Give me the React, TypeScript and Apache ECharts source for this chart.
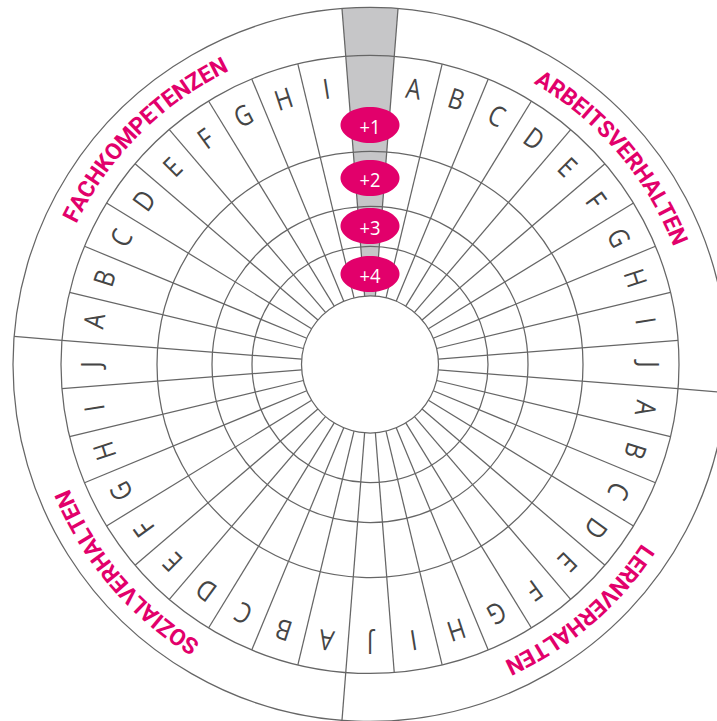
import React, { useEffect, useRef } from "react";
import * as echarts from "echarts";

// ---------------- data ----------------
const CATEGORIES = ["ARBEITSVERHALTEN", "LERNVERHALTEN", "SOZIALVERHALTEN", "FACHKOMPETENZEN"];
const ARBEITS_ITEMS = ["A", "B", "C", "D", "E", "F", "G", "H", "I", "J"];
const LERN_ITEMS = ["A", "B", "C", "D", "E", "F", "G", "H", "I", "J"];
const SOZIAL_ITEMS = ["A", "B", "C", "D", "E", "F", "G", "H", "I", "J"];
const FACH_ITEMS = ["A", "B", "C", "D", "E", "F", "G", "H", "I"];
const CATEGORY_ITEMS = [ARBEITS_ITEMS, LERN_ITEMS, SOZIAL_ITEMS, FACH_ITEMS];
const LEVEL_LABELS = ["+1", "+2", "+3", "+4"];

// ---------------- layout / style ----------------
const CENTER = [370, 364.5];
const OUTER_R = 357;
const INNER_R = 68.5;
const ITEM_RING_OUTER = 309;
const RING_EDGES = [INNER_R, 118, 158, 213, ITEM_RING_OUTER, OUTER_R];
const ITEM_TEXT_R = 280;
const LABEL_R = 333;
const LEVEL_R = [239.5, 186.5, 138.5, 90.5];
const BUBBLE_RX = 29.5;
const BUBBLE_RY = 18;

const MAGENTA = "#e2006b";
const GRAY = "#c6c6c8";
const LINE = "#666666";
const LW = 1.25;
const ITEM_COLOR = "#454545";
const ITEM_FONT_SIZE = 28;
const ITEM_FONT_FAMILY = "'Open Sans', 'Noto Sans', sans-serif";
const ITEM_SCALE_X = 0.84;
const LABEL_FONT = "bold 23px Roboto";
const LABEL_SPACING = 0.1;
const LEVEL_FONT_SIZE = 20;

// segments: index 0 is the highlighted column at the top
type Seg = { cat: number; item: string };
const SEGMENTS: Seg[] = [{ cat: -1, item: "" }];
const CAT_START: number[] = [];
const CAT_END: number[] = [];
CATEGORY_ITEMS.forEach((items, c) => {
  CAT_START.push(SEGMENTS.length);
  items.forEach((it) => SEGMENTS.push({ cat: c, item: it }));
  CAT_END.push(SEGMENTS.length);
});
const TOTAL = SEGMENTS.length;
const HIGHLIGHT = 0;

export default function App() {
  const ref = useRef<HTMLDivElement>(null);
  useEffect(() => {
    const el = ref.current!;
    const chart = echarts.init(el, null, { renderer: "svg" });
    const canvas = document.createElement("canvas");
    const ctx = canvas.getContext("2d")!;
    const measure = (t: string, font: string) => {
      ctx.font = font;
      return ctx.measureText(t).width;
    };

    const renderAll = (params: any, api: any) => {
      const c = api.coord([0, 0]);
      const cx = c[0];
      const cy = c[1];
      const P = (r: number, v: number) => api.coord([r, v]);
      const rad = (r: number) => {
        const p = P(r, 0);
        return Math.hypot(p[0] - cx, p[1] - cy);
      };
      const rotAt = (p: number[]) => Math.atan2(cy - p[1], p[0] - cx) - Math.PI / 2;
      const children: any[] = [];

      // highlighted column
      const pts: number[][] = [];
      const N = 16;
      for (let i = 0; i <= N; i++) pts.push(P(OUTER_R, HIGHLIGHT + i / N));
      for (let i = N; i >= 0; i--) pts.push(P(INNER_R, HIGHLIGHT + i / N));
      children.push({ type: "polygon", shape: { points: pts }, style: { fill: GRAY, stroke: "none" } });

      // rings
      RING_EDGES.forEach((r) =>
        children.push({
          type: "circle",
          shape: { cx, cy, r: rad(r) },
          style: { fill: "none", stroke: LINE, lineWidth: LW },
        })
      );

      // radial lines of the item rings
      for (let k = 0; k < TOTAL; k++) {
        const a = P(INNER_R, k);
        const b = P(ITEM_RING_OUTER, k);
        children.push({
          type: "line",
          shape: { x1: a[0], y1: a[1], x2: b[0], y2: b[1] },
          style: { stroke: LINE, lineWidth: LW },
        });
      }
      // separators in the outer label ring
      const seps = new Set<number>();
      CAT_START.forEach((s) => seps.add(s % TOTAL));
      CAT_END.forEach((e) => seps.add(e % TOTAL));
      seps.forEach((k) => {
        const a = P(ITEM_RING_OUTER, k);
        const b = P(OUTER_R, k);
        children.push({
          type: "line",
          shape: { x1: a[0], y1: a[1], x2: b[0], y2: b[1] },
          style: { stroke: LINE, lineWidth: LW },
        });
      });

      // item letters
      SEGMENTS.forEach((s, i) => {
        if (s.cat < 0) return;
        const p = P(ITEM_TEXT_R, i + 0.5);
        children.push({
          type: "text",
          x: p[0],
          y: p[1],
          rotation: rotAt(p),
          scaleX: ITEM_SCALE_X,
          style: {
            text: s.item,
            fill: ITEM_COLOR,
            fontSize: ITEM_FONT_SIZE,
            fontFamily: ITEM_FONT_FAMILY,
            fontWeight: 400,
            align: "center",
            verticalAlign: "middle",
          },
        });
      });

      // category labels along the outer ring
      const labelRpx = rad(LABEL_R);
      const unitLen = (labelRpx * 2 * Math.PI) / TOTAL;
      CATEGORIES.forEach((label, ci) => {
        const chars = label.split("");
        const widths = chars.map((ch) => measure(ch, LABEL_FONT));
        const W = widths.reduce((a, b) => a + b, 0) + LABEL_SPACING * (chars.length - 1);
        const cv = (CAT_START[ci] + CAT_END[ci]) / 2;
        let acc = -W / 2;
        chars.forEach((ch, j) => {
          const off = acc + widths[j] / 2;
          acc += widths[j] + LABEL_SPACING;
          const v = cv + off / unitLen;
          const p = P(LABEL_R, v);
          children.push({
            type: "text",
            x: p[0],
            y: p[1],
            rotation: rotAt(p),
            style: {
              text: ch,
              fill: MAGENTA,
              font: LABEL_FONT,
              align: "center",
              verticalAlign: "middle",
            },
          });
        });
      });

      // level bubbles in the highlighted column
      LEVEL_LABELS.forEach((lab, i) => {
        const p = P(LEVEL_R[i], HIGHLIGHT + 0.5);
        children.push({
          type: "ellipse",
          shape: { cx: p[0], cy: p[1], rx: BUBBLE_RX, ry: BUBBLE_RY },
          style: { fill: MAGENTA, stroke: "none" },
        });
        children.push({
          type: "text",
          x: p[0],
          y: p[1] + 1,
          scaleX: 0.92,
          style: {
            text: lab,
            fill: "#ffffff",
            fontSize: LEVEL_FONT_SIZE,
            fontFamily: ITEM_FONT_FAMILY,
            align: "center",
            verticalAlign: "middle",
          },
        });
      });

      return { type: "group", children };
    };

    chart.setOption({
      animation: false,
      backgroundColor: "#ffffff",
      polar: { center: CENTER, radius: [0, OUTER_R] },
      angleAxis: {
        type: "value",
        min: 0,
        max: TOTAL,
        startAngle: 90 + 180 / TOTAL,
        clockwise: true,
        show: false,
      },
      radiusAxis: { type: "value", min: 0, max: OUTER_R, show: false },
      series: [
        {
          type: "custom",
          coordinateSystem: "polar",
          data: [[0, 0]],
          renderItem: renderAll,
          silent: true,
          clip: false,
        },
      ],
    });
    return () => chart.dispose();
  }, []);
  return (
    <div
      ref={ref}
      style={{ position: "fixed", left: 0, top: 0, width: 717, height: 721 }}
    />
  );
}
